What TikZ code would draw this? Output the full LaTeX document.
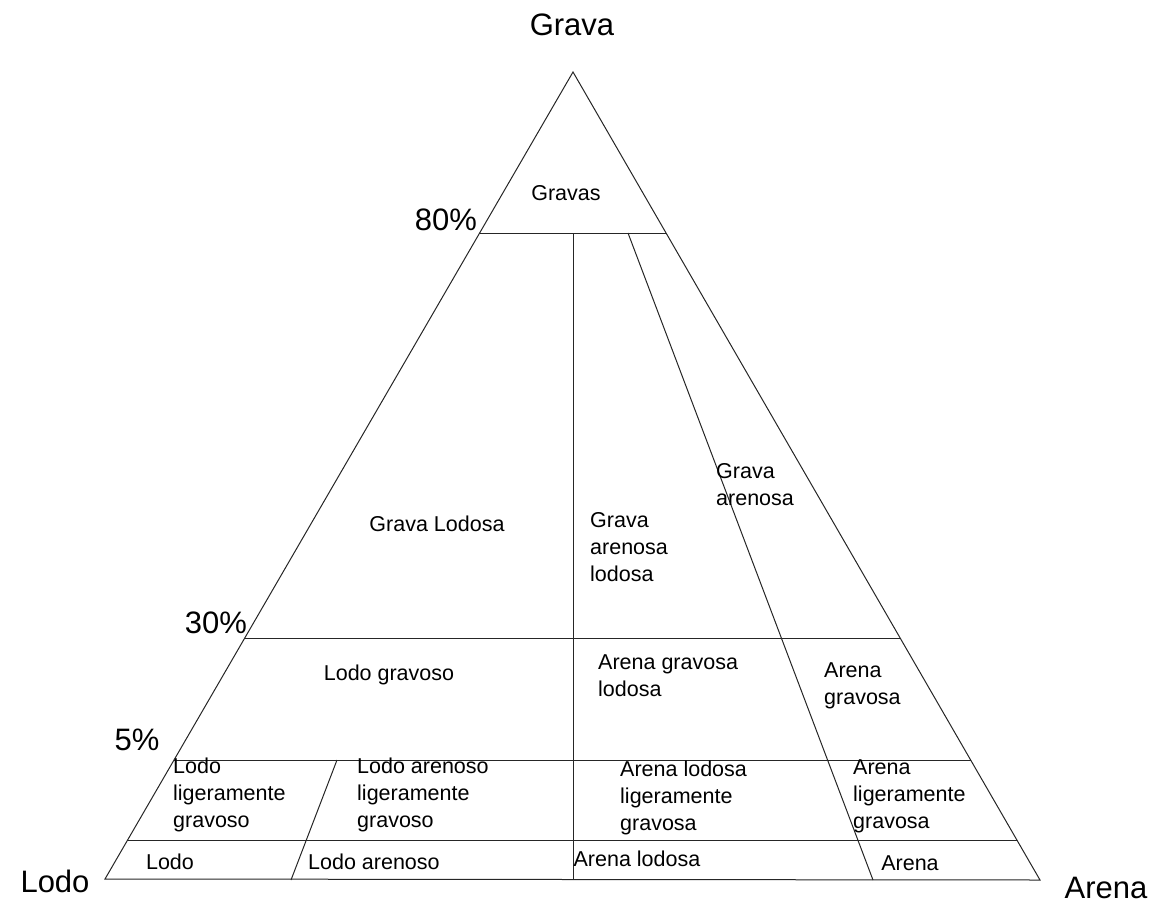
\documentclass[tikz,border=0pt]{standalone}
\usepackage{fontspec}
\setmainfont{Liberation Sans}
\begin{document}
\begin{tikzpicture}[x=1pt,y=-1pt,
  edge/.style={line width=1pt,black!85},
  region/.style={inner sep=0pt,font=\fontsize{21.5}{27}\selectfont,align=left},
  big/.style={inner sep=0pt,font=\fontsize{31}{34}\selectfont}]
\useasboundingbox (0,0) rectangle (1156,907);
% vertices
\coordinate (A) at (573,72);
\coordinate (L) at (105,879);
\coordinate (R) at (1040,880);
% division points
\coordinate (e80l) at (480,233);
\coordinate (e80r) at (666,233);
\coordinate (v80) at (573,233);
\coordinate (vb) at (573,880);
\coordinate (d80) at (628,233);
\coordinate (db) at (873,880);
\coordinate (e30l) at (245,638);
\coordinate (e30r) at (900,638);
\coordinate (e5l) at (174,760);
\coordinate (e5r) at (971,760);
\coordinate (ebl) at (128,840);
\coordinate (ebr) at (1017,840);
\coordinate (s5) at (337,760);
\coordinate (sb) at (291,880);
% outline and divisions
\draw[edge] (A) -- (L) -- (R) -- cycle;
\draw[edge] (e80l) -- (e80r);
\draw[edge] (v80) -- (vb);
\draw[edge] (d80) -- (db);
\draw[edge] (e30l) -- (e30r);
\draw[edge] (e5l) -- (e5r);
\draw[edge] (ebl) -- (ebr);
\draw[edge] (s5) -- (sb);
% corner and scale labels
\node[big] (tGrava) at (572,25) {Grava};
\node[big] (tLodo) at (55,881) {Lodo};
\node[big] (tArena) at (1106,888) {Arena};
\node[big] (p80) at (446,220) {80\%};
\node[big] (p30) at (216,623) {30\%};
\node[big] (p5) at (137,740) {5\%};
% region labels
\node[region] (r1) at (566,193) {Gravas};
\node[region] (r2) at (437,524) {Grava Lodosa};
\node[region,anchor=west] (r3) at (590,547) {Grava\\arenosa\\lodosa};
\node[region,anchor=west] (r4) at (716,485) {Grava\\arenosa};
\node[region] (r5) at (389,675) {Lodo gravoso};
\node[region,anchor=west] (r6) at (598,676) {Arena gravosa\\lodosa};
\node[region,anchor=west] (r7) at (824,686) {Arena\\gravosa};
\node[region,anchor=west] (r8) at (173,795) {Lodo\\ligeramente\\gravoso};
\node[region,anchor=west] (r9) at (357,795) {Lodo arenoso\\ligeramente\\gravoso};
\node[region,anchor=west] (r10) at (620,798) {Arena lodosa\\ligeramente\\gravosa};
\node[region,anchor=west] (r11) at (853,796) {Arena\\ligeramente\\gravosa};
\node[region] (r12) at (170,862) {Lodo};
\node[region,anchor=west] (r13) at (308,862) {Lodo arenoso};
\node[region] (r14) at (637,859) {Arena lodosa};
\node[region] (r15) at (910,863) {Arena};
\end{tikzpicture}
\end{document}
